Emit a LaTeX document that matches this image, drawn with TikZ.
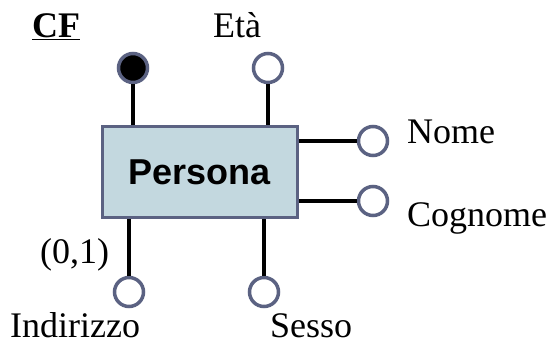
\documentclass[tikz,border=0pt]{standalone}
\usepackage{fontspec}
\setmainfont{Liberation Serif}
\newfontfamily\arialfont{Liberation Sans}
\definecolor{boxfill}{HTML}{C3D8DF}
\definecolor{slate}{HTML}{5B6282}
\begin{document}
\begin{tikzpicture}[x=1pt,y=-1pt,
  entity/.style={draw=slate,fill=boxfill,line width=3pt,minimum width=195pt,minimum height=91pt,inner sep=0pt,font=\arialfont\bfseries\fontsize{36}{40}\selectfont},
  attr/.style={circle,draw=slate,fill=white,line width=3.5pt,minimum size=29pt,inner sep=0pt},
  keyattr/.style={attr,fill=black},
  lbl/.style={anchor=base west,inner sep=0pt,font=\fontsize{36}{40}\selectfont},
  conn/.style={line width=4pt,black}]
\useasboundingbox (0,0) rectangle (553,343);
\node[entity] (persona) at (199.5,172) {Persona};
\node[keyattr] (cf) at (133,68) {};
\node[attr] (eta) at (268,68) {};
\node[attr] (nome) at (373,141) {};
\node[attr] (cognome) at (373,201) {};
\node[attr] (indirizzo) at (129,292) {};
\node[attr] (sesso) at (264,292) {};
\draw[conn] (cf.south) -- (cf.south |- persona.north);
\draw[conn] (eta.south) -- (eta.south |- persona.north);
\draw[conn] (nome.west) -- (nome.west -| persona.east);
\draw[conn] (cognome.west) -- (cognome.west -| persona.east);
\draw[conn] (indirizzo.north) -- (indirizzo.north |- persona.south);
\draw[conn] (sesso.north) -- (sesso.north |- persona.south);
\node[lbl] (lcf) at (32,37) {\underline{\textbf{CF}}};
\node[lbl] (leta) at (213,37) {Età};
\node[lbl] (lnome) at (407,143) {Nome};
\node[lbl] (lcognome) at (407,226) {Cognome};
\node[lbl] (lcard) at (40,263) {(0,1)};
\node[lbl] (lind) at (10,337.5) {Indirizzo};
\node[lbl] (lsesso) at (270,337.5) {Sesso};
\end{tikzpicture}
\end{document}
